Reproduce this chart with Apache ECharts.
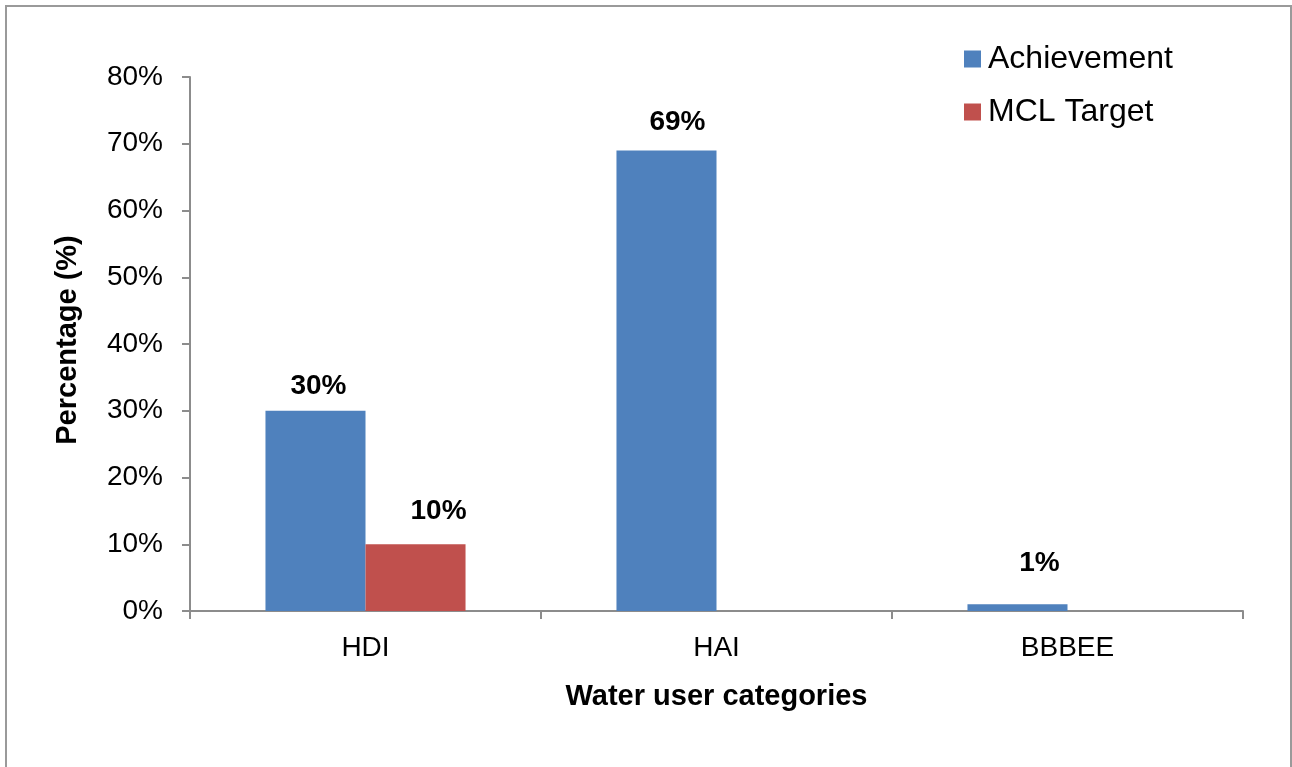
<!DOCTYPE html>
<html>
<head>
<meta charset="utf-8">
<style>
  html, body { margin: 0; padding: 0; background: #ffffff; }
  #chart { width: 1292px; height: 767px; }
</style>
<script src="https://cdn.jsdelivr.net/npm/echarts@6/dist/echarts.min.js"></script>
</head>
<body>
<div id="chart"></div>
<script>
// Water user categories and the share (%) reached by each group
const categories = ['HDI', 'HAI', 'BBBEE'];
const achievement = [30, 69, 1];
const mclTarget = [10, null, null];
const yTicks = [0, 10, 20, 30, 40, 50, 60, 70, 80];

// Per-bar label shifts [dx, dy] so the value labels sit where they are placed in the figure
const achievementLabelShift = [[3, -5], [11, -9], [22, -22]];
const targetLabelShift = [[23, -14], [0, 0], [0, 0]];

const FONT = 'Liberation Sans, Arial, sans-serif';

function withLabels(values, shifts) {
  return values.map((v, i) => (v == null ? null : {
    value: v,
    label: { offset: shifts[i] }
  }));
}

const chart = echarts.init(document.getElementById('chart'), null, { renderer: 'canvas' });

chart.setOption({
  backgroundColor: '#ffffff',
  animation: false,
  textStyle: { fontFamily: FONT },
  graphic: [{
    type: 'rect',
    shape: { x: 6, y: 6, width: 1285, height: 800 },
    style: { fill: 'none', stroke: '#9a9a9a', lineWidth: 2 },
    silent: true
  }],
  grid: { left: 190, right: 49, top: 77, bottom: 156, containLabel: false },
  legend: {
    orient: 'vertical',
    left: 964,
    top: 42,
    padding: 0,
    icon: 'rect',
    itemWidth: 17,
    itemHeight: 17,
    itemGap: 19,
    textStyle: { fontFamily: FONT, fontSize: 32, color: '#000000', lineHeight: 34, padding: [0, 0, 0, 2] },
    data: ['Achievement', 'MCL Target']
  },
  xAxis: {
    type: 'category',
    data: categories,
    name: 'Water user categories',
    nameLocation: 'middle',
    nameGap: 71,
    nameTextStyle: { fontFamily: FONT, fontSize: 29, fontWeight: 'bold', color: '#000000' },
    axisLine: { lineStyle: { color: '#8c8c8c', width: 2 } },
    axisTick: { show: true, length: 8, inside: false, alignWithLabel: false, lineStyle: { color: '#8c8c8c', width: 2 } },
    axisLabel: { fontFamily: FONT, fontSize: 28, color: '#000000', margin: 23 },
    splitLine: { show: false }
  },
  yAxis: {
    type: 'value',
    min: yTicks[0],
    max: yTicks[yTicks.length - 1],
    interval: yTicks[1] - yTicks[0],
    name: 'Percentage (%)',
    nameLocation: 'middle',
    nameGap: 108,
    nameRotate: 90,
    nameTextStyle: { fontFamily: FONT, fontSize: 29, fontWeight: 'bold', color: '#000000', padding: [0, 0, 0, 8] },
    axisLine: { show: true, lineStyle: { color: '#8c8c8c', width: 2 } },
    axisTick: { show: true, length: 8, inside: false, lineStyle: { color: '#8c8c8c', width: 2 } },
    axisLabel: { fontFamily: FONT, fontSize: 28, color: '#000000', margin: 27, formatter: '{value}%' },
    splitLine: { show: false }
  },
  series: [
    {
      name: 'Achievement',
      type: 'bar',
      data: withLabels(achievement, achievementLabelShift),
      itemStyle: { color: '#4f81bd' },
      barGap: '0%',
      barCategoryGap: '43%',
      label: {
        show: true,
        position: 'top',
        distance: 5,
        formatter: '{c}%',
        fontFamily: FONT,
        fontSize: 28,
        fontWeight: 'bold',
        color: '#000000'
      }
    },
    {
      name: 'MCL Target',
      type: 'bar',
      data: withLabels(mclTarget, targetLabelShift),
      itemStyle: { color: '#c0504d' },
      barGap: '0%',
      barCategoryGap: '43%',
      label: {
        show: true,
        position: 'top',
        distance: 5,
        formatter: '{c}%',
        fontFamily: FONT,
        fontSize: 28,
        fontWeight: 'bold',
        color: '#000000'
      }
    }
  ]
});
</script>
</body>
</html>
